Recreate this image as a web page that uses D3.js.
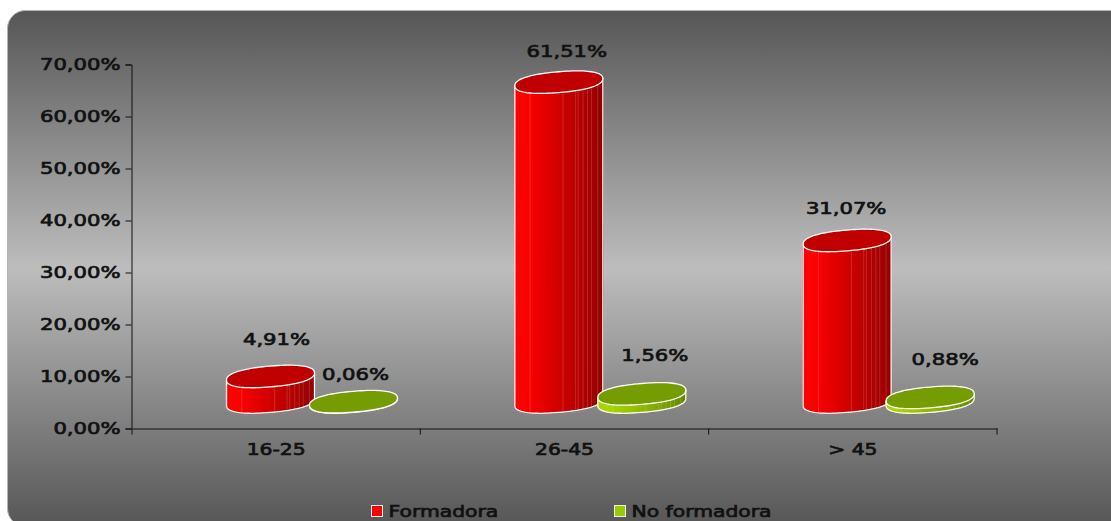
<!DOCTYPE html>
<html>
<head>
<meta charset="utf-8">
<script src="https://cdnjs.cloudflare.com/ajax/libs/d3/7.8.5/d3.min.js"></script>
<style>
  html, body { margin: 0; padding: 0; background: #fff; overflow: hidden; }
  text { font-family: 'DejaVu Sans', sans-serif; font-weight: normal; font-size: 16px; fill: #111; stroke: #111; stroke-width: 0.7px; }
</style>
</head>
<body>
<div id="chart"></div>
<script>
const categories = ['16-25', '26-45', '> 45']
const seriesNames = ['Formadora', 'No formadora']
const formadora = [4.91, 61.51, 31.07]
const noFormadora = [0.06, 1.56, 0.88]
const yTicks = [0, 10, 20, 30, 40, 50, 60, 70]

const width = 1111
const height = 521

const svg = d3
  .select('#chart')
  .append('svg')
  .attr('width', width)
  .attr('height', height)
  .style('display', 'block')

const defs = svg.append('defs')

const bg = defs
  .append('linearGradient')
  .attr('id', 'panel-bg')
  .attr('x1', 0)
  .attr('x2', 0)
  .attr('y1', 0)
  .attr('y2', 1)
bg.append('stop').attr('offset', '0%').attr('stop-color', '#565656')
bg.append('stop').attr('offset', '50%').attr('stop-color', '#bdbdbd')
bg.append('stop').attr('offset', '100%').attr('stop-color', '#565656')

svg
  .append('rect')
  .attr('x', 7.5)
  .attr('y', 10.5)
  .attr('width', 1125)
  .attr('height', 516)
  .attr('rx', 18)
  .attr('fill', 'url(#panel-bg)')
  .attr('stroke', '#b5b5b5')

// Scales
const xPositionScale = d3
  .scaleBand()
  .domain(categories)
  .range([132, 997])

// the two cylinders sit inside each band, pushed right by the fake 3D depth
const seriesScale = d3
  .scalePoint()
  .domain(seriesNames)
  .range([138.5, 221.5])

const yPositionScale = d3
  .scaleLinear()
  .domain([0, 70])
  .range([428.5, 64.5])

// Stretch text sideways, the original picture was scaled wider than tall
function stretch(selection, factor) {
  selection.each(function() {
    this.setAttribute('textLength', this.getComputedTextLength() * factor)
    this.setAttribute('lengthAdjust', 'spacingAndGlyphs')
  })
}
const numberStretch = 1.32
const wordStretch = 1.27

// Axes
const yAxis = d3
  .axisLeft(yPositionScale)
  .tickValues(yTicks)
  .tickSize(6)
  .tickPadding(5)
  .tickFormat(d => d3.format('.2f')(d).replace('.', ',') + '%')

svg
  .append('g')
  .attr('class', 'axis y-axis')
  .attr('transform', 'translate(131.5,0)')
  .call(yAxis)

const xAxis = d3
  .axisBottom(xPositionScale)
  .tickSize(0)
  .tickPadding(15)

const xG = svg
  .append('g')
  .attr('class', 'axis x-axis')
  .attr('transform', 'translate(0,428.5)')
  .call(xAxis)

// tick marks go on the band edges, not the centres
const edges = categories.map(d => xPositionScale(d)).concat(xPositionScale.range()[1])
xG.selectAll('.edge')
  .data(edges)
  .enter()
  .append('line')
  .attr('class', 'edge')
  .attr('x1', d => d)
  .attr('x2', d => d)
  .attr('y1', 0)
  .attr('y2', 6)

svg.selectAll('.axis path, .axis line').attr('stroke', '#111')
svg.selectAll('.axis text').attr('fill', '#111').style('font-size', '16px')
svg.selectAll('.y-axis text').call(stretch, numberStretch)
svg.selectAll('.x-axis text').call(stretch, wordStretch)

// Cylinders
const rx = 44
const ry = 10.4
const skew = 3.6
const roundness = 0.86
const depthShift = 26.5
const facetCount = 48

// where the faint facet lines fall, as a share of the cylinder width
const facetLines = [0.18, 0.55, 0.68, 0.73, 0.78, 0.83, 0.88, 0.94]

const palette = [
  { top: '#c00000', left: '#ff0000', mid: '#cc0000', right: '#960000' },
  { top: '#759c00', left: '#a8d800', mid: '#8cb400', right: '#668800' }
]

function signedPow(v, p) {
  return Math.sign(v) * Math.pow(Math.abs(v), p)
}

function rimPoint(cx, cy, t) {
  const c = signedPow(Math.cos(t), roundness)
  const s = signedPow(Math.sin(t), roundness)
  return [cx + rx * c, cy + ry * s - skew * c]
}

const polyLine = d3.line()

function drawCylinder(cx, value, colours) {
  const topY = yPositionScale(value) - depthShift
  const baseY = yPositionScale(0) - depthShift
  const g = svg.append('g').attr('class', 'cylinder')
  const facetColour = d3
    .scaleLinear()
    .domain([0, 0.12, 0.55, 1])
    .range([colours.left, colours.left, colours.mid, colours.right])

  const angles = d3.range(facetCount + 1).map(i => Math.PI * (1 - i / facetCount))
  const share = a => (rimPoint(cx, 0, a)[0] - (cx - rx)) / (2 * rx)

  // front wall, thin quads from left to right
  d3.pairs(angles).forEach(([a, b]) => {
    const fill = facetColour((share(a) + share(b)) / 2)
    const quad = [
      rimPoint(cx, topY, a),
      rimPoint(cx, topY, b),
      rimPoint(cx, baseY, b),
      rimPoint(cx, baseY, a)
    ]
    g.append('path')
      .attr('d', polyLine(quad) + 'Z')
      .attr('fill', fill)
      .attr('stroke', fill)
      .attr('stroke-width', 0.9)
  })

  // faint facet lines, only where the wall is tall enough to show them
  facetLines.forEach(f => {
    const a = angles.reduce((best, t) => (Math.abs(share(t) - f) < Math.abs(share(best) - f) ? t : best))
    g.append('line')
      .attr('x1', rimPoint(cx, topY, a)[0])
      .attr('x2', rimPoint(cx, baseY, a)[0])
      .attr('y1', rimPoint(cx, topY, a)[1])
      .attr('y2', rimPoint(cx, baseY, a)[1])
      .attr('stroke', 'rgba(255,255,255,0.2)')
      .attr('stroke-width', 0.8)
  })

  // white outline of the wall
  const wall = angles
    .map(a => rimPoint(cx, baseY, a))
    .concat([rimPoint(cx, topY, 0), rimPoint(cx, topY, Math.PI)])
  g.append('path')
    .attr('d', polyLine(wall) + 'Z')
    .attr('fill', 'none')
    .attr('stroke', '#fff')
    .attr('stroke-width', 1.3)

  // top face
  const rim = d3.range(facetCount * 2).map(i => rimPoint(cx, topY, (i / (facetCount * 2)) * Math.PI * 2))
  g.append('path')
    .attr('d', polyLine(rim) + 'Z')
    .attr('fill', colours.top)
    .attr('stroke', '#fff')
    .attr('stroke-width', 1.3)
}

categories.forEach((cat, i) => {
  const bandStart = xPositionScale(cat)
  drawCylinder(bandStart + seriesScale(seriesNames[0]), formadora[i], palette[0])
  drawCylinder(bandStart + seriesScale(seriesNames[1]), noFormadora[i], palette[1])
})

// Data labels were dragged by hand in the original, so each has its own nudge
const labelNudge = [
  [[6, -37], [2, -27]],
  [[8, -31], [13, -39]],
  [[-1, -32], [15, -38]]
]

categories.forEach((cat, i) => {
  ;[formadora, noFormadora].forEach((values, s) => {
    const v = values[i]
    svg
      .append('text')
      .attr('class', 'data-label')
      .attr('x', xPositionScale(cat) + seriesScale(seriesNames[s]) + labelNudge[i][s][0])
      .attr('y', yPositionScale(v) - depthShift + labelNudge[i][s][1])
      .attr('dy', '0.36em')
      .attr('text-anchor', 'middle')
      .text(v.toFixed(2).replace('.', ',') + '%')
      .call(stretch, numberStretch)
  })
})

// Legend
const legendX = d3
  .scaleOrdinal()
  .domain(seriesNames)
  .range([371.5, 614.5])

const legendItems = svg
  .selectAll('.legend-item')
  .data(seriesNames)
  .enter()
  .append('g')
  .attr('class', 'legend-item')
  .attr('transform', d => 'translate(' + legendX(d) + ',505.5)')

legendItems
  .append('rect')
  .attr('width', 11)
  .attr('height', 11)
  .attr('fill', (d, i) => ['#ff0000', '#99cc00'][i])
  .attr('stroke', '#eee')
  .attr('stroke-width', 1)

legendItems
  .append('text')
  .attr('x', 17)
  .attr('y', 11)
  .text(d => d)
  .call(stretch, wordStretch)
</script>
</body>
</html>
